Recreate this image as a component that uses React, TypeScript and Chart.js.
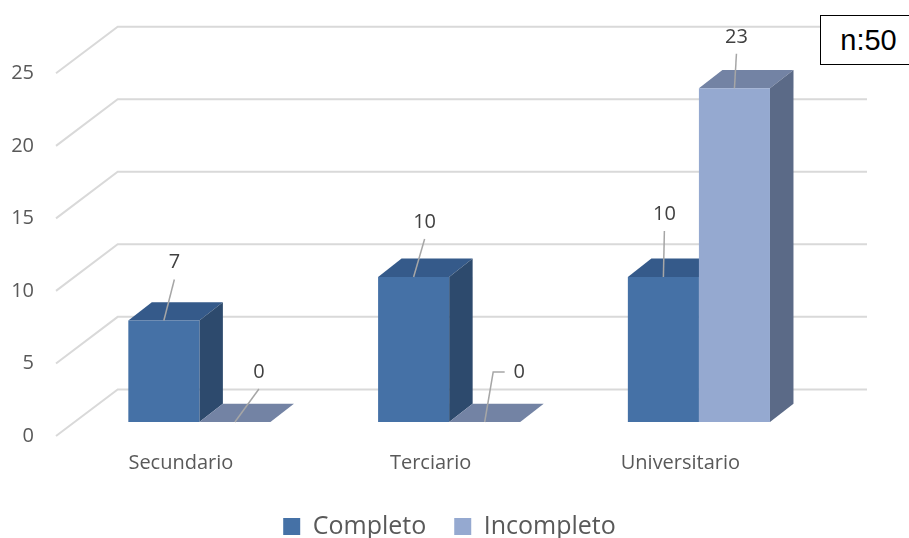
import { useEffect, useRef } from "react";
import { Chart, registerables } from "chart.js";

Chart.register(...registerables);

// ---- data ----
const categories = ["Secundario", "Terciario", "Universitario"];
const seriesNames = ["Completo", "Incompleto"];
const completo = [7, 10, 10];
const incompleto = [0, 0, 23];
const yMax = 25;
const yStep = 5;
const sampleNote = "n:50";

// ---- 3D look ----
const WALL_DX = 61.7; // floor depth, horizontal
const WALL_DY = 46.6; // floor depth, vertical
const FRONT_DX = 18.5; // bars sit this far back from the front plane
const FRONT_DY = 14;
const BAR_DX = 23.5; // bar depth
const BAR_DY = 18.3;

const frontColors = ["#4571a6", "#95a9d0"];
const topColors = ["#355a8a", "#7383a4"];
const sideColors = ["#2d4a6d", "#5b6a87"];

// value label placement relative to the bar's front-top centre
const labelOffsets = [
  [[10.5, -58], [11, -55], [1, -63]],
  [[24, -50], [34.5, -50], [2, -51.5]],
];
const labelElbow = [
  [false, false, false],
  [false, true, false],
];

const FONT = "'Open Sans', sans-serif";

const threeD = {
  id: "threeD",
  beforeDatasetsDraw(chart: any) {
    const { ctx, chartArea, scales } = chart;
    const y = scales.y;
    ctx.save();
    // back wall and side wall grid
    ctx.strokeStyle = "#d9d9d9";
    ctx.lineWidth = 2;
    for (const t of y.ticks) {
      const py = y.getPixelForValue(t.value);
      ctx.beginPath();
      ctx.moveTo(chartArea.left, py);
      ctx.lineTo(chartArea.left + WALL_DX, py - WALL_DY);
      ctx.lineTo(chartArea.right + WALL_DX, py - WALL_DY);
      ctx.stroke();
    }
    // top and side faces of every bar; the fronts are drawn by Chart.js afterwards
    ctx.translate(FRONT_DX, -FRONT_DY);
    chart.data.datasets.forEach((_ds: any, di: number) => {
      const meta = chart.getDatasetMeta(di);
      for (const bar of meta.data) {
        const p = bar.getProps(["x", "y", "base", "width"], true);
        const l = p.x - p.width / 2;
        const r = p.x + p.width / 2;
        const top = p.y;
        const base = p.base;
        ctx.fillStyle = topColors[di];
        ctx.beginPath();
        ctx.moveTo(l, top);
        ctx.lineTo(r, top);
        ctx.lineTo(r + BAR_DX, top - BAR_DY);
        ctx.lineTo(l + BAR_DX, top - BAR_DY);
        ctx.closePath();
        ctx.fill();
        if (base - top > 0.5) {
          ctx.fillStyle = sideColors[di];
          ctx.beginPath();
          ctx.moveTo(r, top);
          ctx.lineTo(r + BAR_DX, top - BAR_DY);
          ctx.lineTo(r + BAR_DX, base - BAR_DY);
          ctx.lineTo(r, base);
          ctx.closePath();
          ctx.fill();
        }
      }
    });
    ctx.restore();
  },
  beforeDatasetDraw(chart: any) {
    chart.ctx.save();
    chart.ctx.translate(FRONT_DX, -FRONT_DY);
  },
  afterDatasetDraw(chart: any) {
    chart.ctx.restore();
  },
  afterDatasetsDraw(chart: any) {
    const { ctx } = chart;
    ctx.save();
    ctx.font = `20px ${FONT}`;
    ctx.textAlign = "center";
    ctx.textBaseline = "middle";
    chart.data.datasets.forEach((ds: any, di: number) => {
      const meta = chart.getDatasetMeta(di);
      meta.data.forEach((bar: any, i: number) => {
        const p = bar.getProps(["x", "y"], true);
        const ax = p.x + FRONT_DX;
        const ay = p.y - FRONT_DY;
        const [ox, oy] = labelOffsets[di][i];
        const lx = ax + ox;
        const ly = ay + oy;
        ctx.strokeStyle = "#a6a6a6";
        ctx.lineWidth = 1.5;
        ctx.beginPath();
        ctx.moveTo(ax, ay);
        if (labelElbow[di][i]) {
          ctx.lineTo(lx - 26, ly);
          ctx.lineTo(lx - 14.5, ly);
        } else {
          ctx.lineTo(lx, ly + 17);
        }
        ctx.stroke();
        ctx.fillStyle = "#404040";
        ctx.fillText(String(ds.data[i]), lx, ly);
      });
    });
    ctx.restore();
  },
};

export default function App() {
  const ref = useRef<HTMLCanvasElement>(null);

  useEffect(() => {
    document.body.style.margin = "0";
    const chart = new Chart(ref.current!, {
      type: "bar",
      data: {
        labels: categories,
        datasets: [
          { label: seriesNames[0], data: completo, backgroundColor: frontColors[0], clip: false as any },
          { label: seriesNames[1], data: incompleto, backgroundColor: frontColors[1], clip: false as any },
        ],
      },
      options: {
        responsive: false,
        animation: false,
        layout: { padding: { top: 73.3, right: 10, left: 0, bottom: -11 } },
        datasets: { bar: { barPercentage: 1, categoryPercentage: 0.569 } },
        scales: {
          x: {
            grid: { display: false, drawTicks: false },
            border: { display: false },
            ticks: { font: { family: FONT, size: 20 }, color: "#595959", padding: 15.5 },
            afterFit: (s: any) => {
              s.height = 50;
            },
          },
          y: {
            min: 0,
            max: yMax,
            grid: { display: false, drawTicks: false },
            border: { display: false },
            ticks: { stepSize: yStep, font: { family: FONT, size: 20 }, color: "#595959", padding: 22 },
            afterFit: (s: any) => {
              s.width = 56;
            },
          },
          // empty strip on the right that leaves room for the back wall
          gap: {
            type: "linear",
            axis: "y",
            position: "right",
            grid: { display: false, drawTicks: false },
            border: { display: false },
            ticks: { display: false },
            afterFit: (s: any) => {
              s.width = 93.7;
            },
          },
        },
        plugins: {
          tooltip: { enabled: false },
          legend: {
            position: "bottom",
            labels: {
              boxWidth: 17,
              boxHeight: 17,
              padding: 28,
              color: "#595959",
              font: { family: FONT, size: 25 },
            },
          },
        },
      } as any,
      plugins: [threeD],
    });
    return () => chart.destroy();
  }, []);

  return (
    <div style={{ position: "relative", width: 909, height: 538, overflow: "hidden", background: "#fff" }}>
      <canvas ref={ref} width={909} height={538} style={{ display: "block" }} />
      <div
        style={{
          position: "absolute",
          left: 820,
          top: 15,
          width: 97,
          height: 50,
          boxSizing: "border-box",
          border: "1.5px solid #000",
          background: "#fff",
          display: "flex",
          alignItems: "center",
          justifyContent: "center",
          font: "29px 'Liberation Sans', Arial, sans-serif",
          color: "#000",
        }}
      >
        {sampleNote}
      </div>
    </div>
  );
}
